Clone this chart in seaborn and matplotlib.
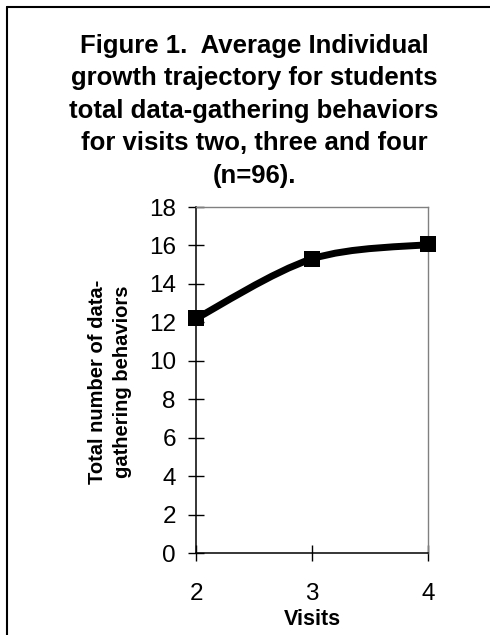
# =====================================
# Figure 1 - growth trajectory
# =====================================

import numpy as np
import pandas as pd
import matplotlib
matplotlib.use("Agg")
import matplotlib.pyplot as plt
import seaborn as sns
from matplotlib.path import Path
from matplotlib.patches import PathPatch
from matplotlib.lines import Line2D

sns.set_theme(style="white")
plt.rcParams['font.family'] = ['Liberation Sans', 'DejaVu Sans']
plt.rcParams['text.color'] = 'black'
plt.rcParams['axes.labelcolor'] = 'black'
plt.rcParams['xtick.color'] = 'black'
plt.rcParams['ytick.color'] = 'black'

# =====================================
# 1. Data
# =====================================
visits = [2, 3, 4]
behaviors = [12.2, 15.3, 16.05]
y_ticks = [0, 2, 4, 6, 8, 10, 12, 14, 16, 18]

TITLE_LINES = [
    "Figure 1.  Average Individual",
    "growth trajectory for students",
    "total data-gathering behaviors",
    "for visits two, three and four",
    "(n=96).",
]
Y_LABEL = "Total number of data-\ngathering behaviors"
X_LABEL = "Visits"

df = pd.DataFrame({"Visit": visits, "Behaviors": behaviors})

# =====================================
# 2. Figure
# =====================================
W, H = 490, 635
fig = plt.figure(figsize=(W / 100, H / 100), dpi=100)
ax = fig.add_axes([196 / W, 1 - 553 / H, 232 / W, 346 / H])

# smoothed line (Catmull-Rom style bezier through the points)
pts = df[["Visit", "Behaviors"]].to_numpy(dtype=float)
ext = np.vstack([pts[0], pts, pts[-1]])
verts = [tuple(pts[0])]
codes = [Path.MOVETO]
for i in range(len(pts) - 1):
    p0, p1, p2, p3 = ext[i], ext[i + 1], ext[i + 2], ext[i + 3]
    c1 = p1 + (p2 - p0) / 6
    c2 = p2 - (p3 - p1) / 6
    verts += [tuple(c1), tuple(c2), tuple(p2)]
    codes += [Path.CURVE4] * 3
ax.add_patch(PathPatch(Path(verts, codes), facecolor="none", edgecolor="black",
                       lw=5, capstyle="round", joinstyle="round", zorder=2))

sns.scatterplot(data=df, x="Visit", y="Behaviors", marker="s", s=121,
                color="black", edgecolor="black", linewidth=0, zorder=3,
                clip_on=False, ax=ax, legend=False)

ax.set_xlim(2, 4)
ax.set_ylim(0, 18)
ax.set_xticks(visits)
ax.set_yticks(y_ticks)
ax.tick_params(axis="both", direction="inout", length=11, width=1,
               colors="black", labelsize=17.5)
ax.tick_params(axis="x", pad=16, bottom=True)
ax.tick_params(axis="y", pad=9, left=True)

for side in ["left", "bottom"]:
    ax.spines[side].set_color("black")
    ax.spines[side].set_linewidth(1.1)
for side in ["top", "right"]:
    ax.spines[side].set_color("#808080")
    ax.spines[side].set_linewidth(1)

ax.set_xlabel(X_LABEL, fontsize=15.5, fontweight="bold", labelpad=3)
ax.set_ylabel("")

fig.text(110 / W, 1 - 382 / H, Y_LABEL, rotation=90, ha="center", va="center",
         fontsize=14.5, fontweight="bold", linespacing=1.4)

# title, one line at a time
for i, line in enumerate(TITLE_LINES):
    fig.text(254 / W, 1 - (53 + 32.5 * i) / H, line, ha="center", va="baseline",
             fontsize=18.5, fontweight="bold")

# page frame (left and top edges)
fig.add_artist(Line2D([7 / W, 7 / W], [0, 1 - 7 / H], color="black", lw=1.5,
                      transform=fig.transFigure))
fig.add_artist(Line2D([7 / W, 1], [1 - 7 / H, 1 - 7 / H], color="black", lw=1.5,
                      transform=fig.transFigure))

fig.savefig("out.png", dpi=100)
